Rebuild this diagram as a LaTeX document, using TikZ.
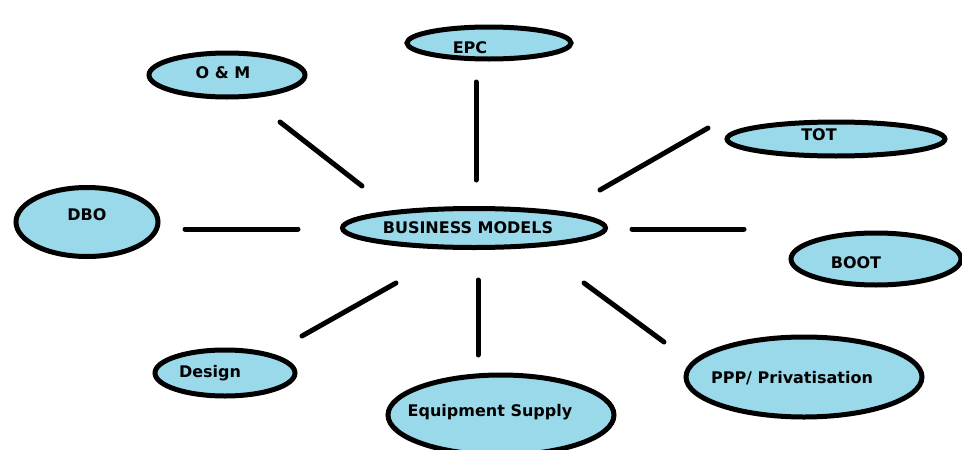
\documentclass[tikz,border=0pt]{standalone}
\usepackage{fontspec}
\setsansfont{DejaVu Sans}
\usepackage{tikz}
\usetikzlibrary{shapes.geometric}
\definecolor{paintblue}{RGB}{153,217,234}

\begin{document}
\begin{tikzpicture}[
  x=1pt, y=-1pt,
  model/.style={ellipse, draw=black, line width=5pt, fill=paintblue, inner sep=0pt},
  modeltext/.style={font=\sffamily\bfseries\fontsize{16}{19}\selectfont, inner sep=0pt},
  spoke/.style={line width=5pt, line cap=round}
]
  \useasboundingbox (0,0) rectangle (962,450);

  % Centre
  \node[model, minimum width=263, minimum height=39,
        label={[modeltext, shift={(-6,0)}]center:BUSINESS MODELS}] (bm) at (474,228) {};

  % Surrounding models
  \node[model, minimum width=164, minimum height=32,
        label={[modeltext, shift={(-19,5)}]center:EPC}] (epc) at (489,43) {};
  \node[model, minimum width=156, minimum height=44,
        label={[modeltext, shift={(-4,-2)}]center:O \& M}] (om) at (227,75) {};
  \node[model, minimum width=218, minimum height=34,
        label={[modeltext, shift={(-17,-4)}]center:TOT}] (tot) at (836,139) {};
  \node[model, minimum width=142, minimum height=69,
        label={[modeltext, shift={(0,-7)}]center:DBO}] (dbo) at (87,222) {};
  \node[model, minimum width=170, minimum height=52,
        label={[modeltext, shift={(-20,4)}]center:BOOT}] (boot) at (876,259) {};
  \node[model, minimum width=140, minimum height=46,
        label={[modeltext, shift={(-15,0)}]center:Design}] (design) at (225,373) {};
  \node[model, minimum width=226, minimum height=80,
        label={[modeltext, shift={(-11,-3)}]center:Equipment Supply}] (equip) at (501,415) {};
  \node[model, minimum width=236, minimum height=80,
        label={[modeltext, shift={(-12,1)}]center:PPP/ Privatisation}] (ppp) at (804,377) {};

  % Spokes
  \draw[spoke] ([shift={(2,-48)}]bm.center)   -- ([shift={(-13,39)}]epc.center);
  \draw[spoke] ([shift={(-112,-42)}]bm.center) -- ([shift={(53,47)}]om.center);
  \draw[spoke] ([shift={(126,-38)}]bm.center)  -- ([shift={(-128,-11)}]tot.center);
  \draw[spoke] ([shift={(-176,1)}]bm.center)   -- ([shift={(98,7)}]dbo.center);
  \draw[spoke] ([shift={(158,1)}]bm.center)    -- ([shift={(-132,-30)}]boot.center);
  \draw[spoke] ([shift={(-78,55)}]bm.center)   -- ([shift={(77,-37)}]design.center);
  \draw[spoke] ([shift={(4,52)}]bm.center)     -- ([shift={(-23,-60)}]equip.center);
  \draw[spoke] ([shift={(110,55)}]bm.center)   -- ([shift={(-140,-35)}]ppp.center);
\end{tikzpicture}
\end{document}
